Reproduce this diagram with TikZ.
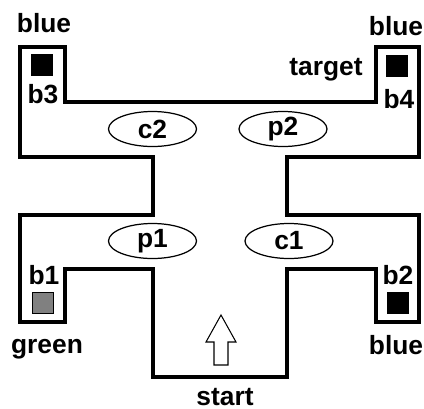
\documentclass[tikz,border=0pt]{standalone}
\usepackage{fontspec}
\setmainfont{Liberation Sans}
\usetikzlibrary{shapes.geometric}
\tikzset{
	wall/.style={line width=2.4pt, line join=miter},
	lab/.style={font=\bfseries\fontsize{15}{17}\selectfont, inner sep=0, anchor=base},
	zone/.style={draw, ellipse, line width=0.7pt, minimum width=1.76cm, minimum height=0.7cm, inner sep=0,
		font=\bfseries\fontsize{15}{17}\selectfont},
	box/.style={draw, rectangle, minimum size=0.42cm, inner sep=0, fill=black}
}

\begin{document}
\begin{tikzpicture}
	\useasboundingbox (0,0) rectangle (8.48,-8.16);
	% outer walls of the arena
	\draw[wall] (0.4,-0.94) -- (1.3,-0.94) -- (1.3,-2.04) -- (7.52,-2.04) -- (7.52,-0.94)
		-- (8.38,-0.94) -- (8.38,-3.14) -- (5.74,-3.14) -- (5.74,-4.3) -- (8.38,-4.3)
		-- (8.38,-6.44) -- (7.52,-6.44) -- (7.52,-5.38) -- (5.74,-5.38) -- (5.74,-7.54)
		-- (3.06,-7.54) -- (3.06,-5.38) -- (1.3,-5.38) -- (1.3,-6.44) -- (0.4,-6.44)
		-- (0.4,-4.3) -- (3.06,-4.3) -- (3.06,-3.14) -- (0.4,-3.14) -- cycle;
	
	% zones
	\node[zone] (c2) at (3.05,-2.58) {c2};
	\node[zone] (p2) at (5.66,-2.58) {p2};
	\node[zone] (p1) at (3.05,-4.82) {p1};
	\node[zone] (c1) at (5.78,-4.82) {c1};
	
	% boxes
	\node[box] (b3) at (0.84,-1.30) {};
	\node[box] (b4) at (7.94,-1.32) {};
	\node[box, fill=black!50, thin] (b1) at (0.86,-6.06) {};
	\node[box] (b2) at (7.96,-6.06) {};
	
	\node[lab] (b3lab) at (0.86,-2.06) {b3};
	\node[lab] (b4lab) at (7.98,-2.16) {b4};
	\node[lab] (b1lab) at (0.88,-5.68) {b1};
	\node[lab] (b2lab) at (7.96,-5.68) {b2};
	
	\node[lab] (col3) at (0.88,-0.65) {blue};
	\node[lab] (col4) at (7.92,-0.70) {blue};
	\node[lab] (col1) at (0.94,-7.06) {green};
	\node[lab] (col2) at (7.92,-7.08) {blue};
	\node[lab] (target) at (6.52,-1.50) {target};
	\node[lab] (start) at (4.50,-8.10) {start};
	
	% heading at the start
	\draw[semithick, fill=white] (4.42,-6.30) -- (4.72,-6.84) -- (4.56,-6.84) -- (4.56,-7.30)
		-- (4.28,-7.30) -- (4.28,-6.84) -- (4.12,-6.84) -- cycle;
\end{tikzpicture}
\end{document}
